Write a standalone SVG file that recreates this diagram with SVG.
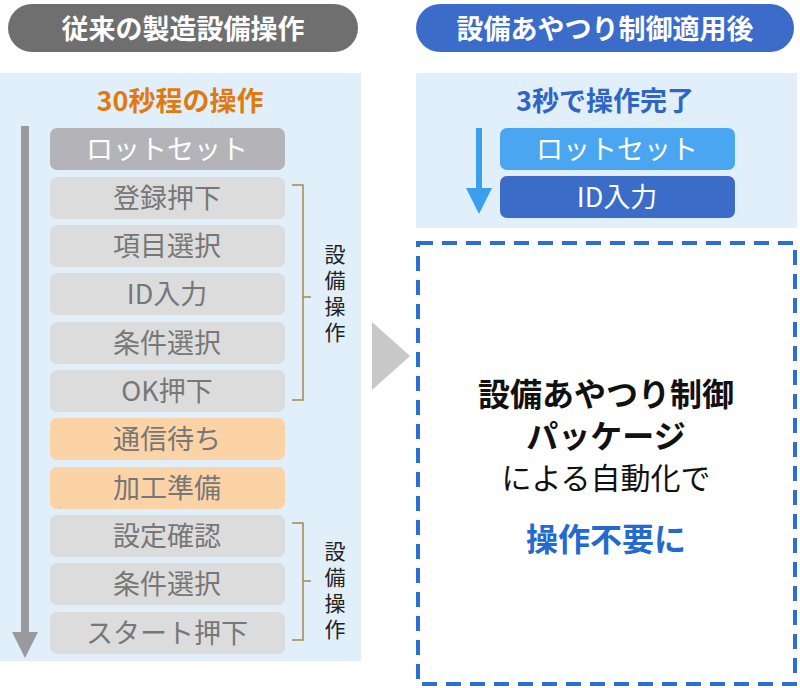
<svg xmlns="http://www.w3.org/2000/svg" width="800" height="688" viewBox="0 0 800 688">
<style>
text{font-family:"Noto Sans CJK JP","Noto Sans",sans-serif;text-anchor:middle}
.b{fill:#dcdcdc}.bt{font-size:27px;fill:#777}
.o{fill:#fcd3a7}.ot{font-size:27px;fill:#777}
.br{fill:none;stroke:#a08a50;stroke-width:1.5}
.v{font-size:21px;fill:#222;writing-mode:vertical-rl;letter-spacing:5px}
</style>
<rect width="800" height="688" fill="#fff"/>
<g id="hdrL"><rect x="8" y="4" width="350" height="48" rx="24" fill="#6f6f6f"/><text x="183" y="39" font-size="27" font-weight="bold" fill="#fff">従来の製造設備操作</text></g>
<g id="hdrR"><rect x="416" y="4" width="378" height="48" rx="24" fill="#3b6cc9"/><text x="605" y="39" font-size="27" font-weight="bold" fill="#fff">設備あやつり制御適用後</text></g>
<rect x="0" y="73" width="361" height="588" fill="#e1effa"/>
<rect x="416" y="73" width="381" height="155" fill="#e1effa"/>
<text x="180" y="111" font-size="27" font-weight="bold" fill="#e07a10">30秒程の操作</text>
<text x="605" y="111" font-size="27" font-weight="bold" fill="#2f65c6">3秒で操作完了</text>
<g id="connectors">
<line x1="25" y1="126" x2="25" y2="635" stroke="#9a9a9e" stroke-width="8"/>
<polygon points="12,632 38,632 25,658" fill="#9a9a9e"/>
<line x1="479" y1="128" x2="479" y2="192" stroke="#3aa0ee" stroke-width="6"/>
<polygon points="466,188 492,188 479,214" fill="#3aa0ee"/>
<polygon points="372,322 410,356 372,390" fill="#c8c8c8"/>
<path class="br" d="M292,185 H303 V400 H292 M303,297 H311"/>
<path class="br" d="M292,523 H303 V640 H292 M303,581 H311"/>
</g>
<g id="n0"><rect x="50" y="128" width="235" height="42" rx="7" fill="#b4b4b8"/><text x="167" y="159" font-size="27" fill="#fff">ロットセット</text></g>
<g id="n1"><rect class="b" x="50" y="177" width="235" height="42" rx="7"/><text class="bt" x="167" y="208">登録押下</text></g>
<g id="n2"><rect class="b" x="50" y="225" width="235" height="42" rx="7"/><text class="bt" x="167" y="256">項目選択</text></g>
<g id="n3"><rect class="b" x="50" y="273" width="235" height="42" rx="7"/><text class="bt" x="167" y="304">ID入力</text></g>
<g id="n4"><rect class="b" x="50" y="322" width="235" height="42" rx="7"/><text class="bt" x="167" y="353">条件選択</text></g>
<g id="n5"><rect class="b" x="50" y="370" width="235" height="42" rx="7"/><text class="bt" x="167" y="401">OK押下</text></g>
<g id="n6"><rect class="o" x="50" y="418" width="235" height="42" rx="7"/><text class="ot" x="167" y="449">通信待ち</text></g>
<g id="n7"><rect class="o" x="50" y="467" width="235" height="42" rx="7"/><text class="ot" x="167" y="498">加工準備</text></g>
<g id="n8"><rect class="b" x="50" y="515" width="235" height="42" rx="7"/><text class="bt" x="167" y="546">設定確認</text></g>
<g id="n9"><rect class="b" x="50" y="563" width="235" height="42" rx="7"/><text class="bt" x="167" y="594">条件選択</text></g>
<g id="n10"><rect class="b" x="50" y="612" width="235" height="42" rx="7"/><text class="bt" x="167" y="643">スタート押下</text></g>
<g id="lab1"><text class="v" x="335" y="296">設備操作</text></g>
<g id="lab2"><text class="v" x="335" y="593">設備操作</text></g>
<g id="r0"><rect x="500" y="128" width="235" height="42" rx="7" fill="#4ba6f2"/><text x="617" y="159" font-size="27" fill="#fff">ロットセット</text></g>
<g id="r1"><rect x="500" y="176" width="235" height="42" rx="7" fill="#3a6cc8"/><text x="617" y="207" font-size="27" fill="#fff">ID入力</text></g>
<g id="pkg"><rect x="418" y="243" width="377" height="441" fill="none" stroke="#2b6fd6" stroke-width="4" stroke-dasharray="15,9"/>
<text x="606" y="406" font-size="32" font-weight="bold" fill="#111">設備あやつり制御</text>
<text x="606" y="448" font-size="32" font-weight="bold" fill="#111">パッケージ</text>
<text x="606" y="489" font-size="30" fill="#111">による自動化で</text>
<text x="606" y="551" font-size="32" font-weight="bold" fill="#2369d0">操作不要に</text></g>
</svg>
